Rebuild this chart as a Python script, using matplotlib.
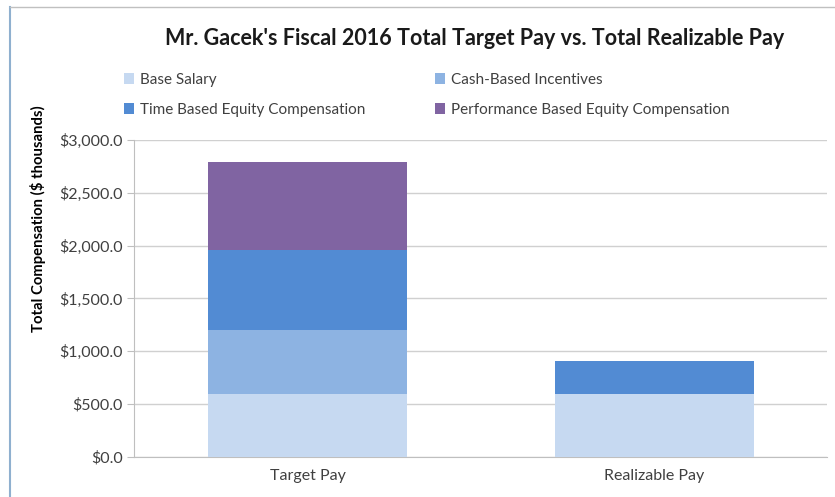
import matplotlib.pyplot as plt
from matplotlib.patches import Patch
from matplotlib.ticker import FuncFormatter

plt.rcParams['font.family'] = ['Lato', 'DejaVu Sans']

categories = ['Target Pay', 'Realizable Pay']
base_salary = [600, 600]
cash_incentives = [598, 0]
time_equity = [757, 305]
perf_equity = [840, 0]

series = ['Base Salary', 'Cash-Based Incentives',
          'Time Based Equity Compensation', 'Performance Based Equity Compensation']
colors = ['#C6D9F1', '#8DB3E2', '#528BD3', '#8064A2']

fig = plt.figure(figsize=(8.35, 4.97), dpi=100)
ax = fig.add_axes([0.161, 0.0805, 0.83, 0.638])

x = range(len(categories))
bottom = [0, 0]
for vals, col in zip([base_salary, cash_incentives, time_equity, perf_equity], colors):
    ax.bar(x, vals, bottom=bottom, width=0.574, color=col, zorder=3)
    bottom = [b + v for b, v in zip(bottom, vals)]

ax.set_xlim(-0.5, 1.5)
ax.set_ylim(0, 3000)
ax.set_yticks(range(0, 3001, 500))
ax.yaxis.set_major_formatter(FuncFormatter(lambda v, p: f'${v:,.1f}'))
ax.set_xticks(list(x))
ax.set_xticklabels(categories)
ax.grid(axis='y', color='#D0D0D0', linewidth=1, zorder=0)
for s in ['top', 'right']:
    ax.spines[s].set_visible(False)
for s in ['left', 'bottom']:
    ax.spines[s].set_color('#BFBFBF')
ax.tick_params(axis='y', colors='#BFBFBF', labelcolor='#404040', labelsize=11.5, length=5)
ax.tick_params(axis='x', length=0, labelcolor='#404040', labelsize=11.5, pad=9)
ax.set_ylabel('Total Compensation ($ thousands)', fontsize=10.7, fontweight='bold')
ax.yaxis.set_label_coords(-0.128, 0.75)

fig.text(0.568, 0.923, "Mr. Gacek's Fiscal 2016 Total Target Pay vs. Total Realizable Pay",
         ha='center', va='center', fontsize=15.5, fontweight='bold', color='#1a1a1a')

# legend fills row by row: reorder for column-major layout
order = [0, 2, 1, 3]
handles = [Patch(facecolor=colors[i], edgecolor='none') for i in order]
labels = [series[i] for i in order]
fig.legend(handles, labels, ncol=2, loc='upper left', bbox_to_anchor=(0.148, 0.853),
           frameon=False, fontsize=11, handlelength=0.7, handleheight=0.7,
           handletextpad=0.4, columnspacing=4.5, labelspacing=1.02,
           labelcolor='#404040', borderaxespad=0, borderpad=0)

# outer chart border
fig.add_artist(plt.Line2D([0.012, 0.012], [0, 0.985], color='#8FB0CF', linewidth=1.5))
fig.add_artist(plt.Line2D([0.012, 1], [0.985, 0.985], color='#C0C0C0', linewidth=1))

fig.savefig('out.png', dpi=100)
